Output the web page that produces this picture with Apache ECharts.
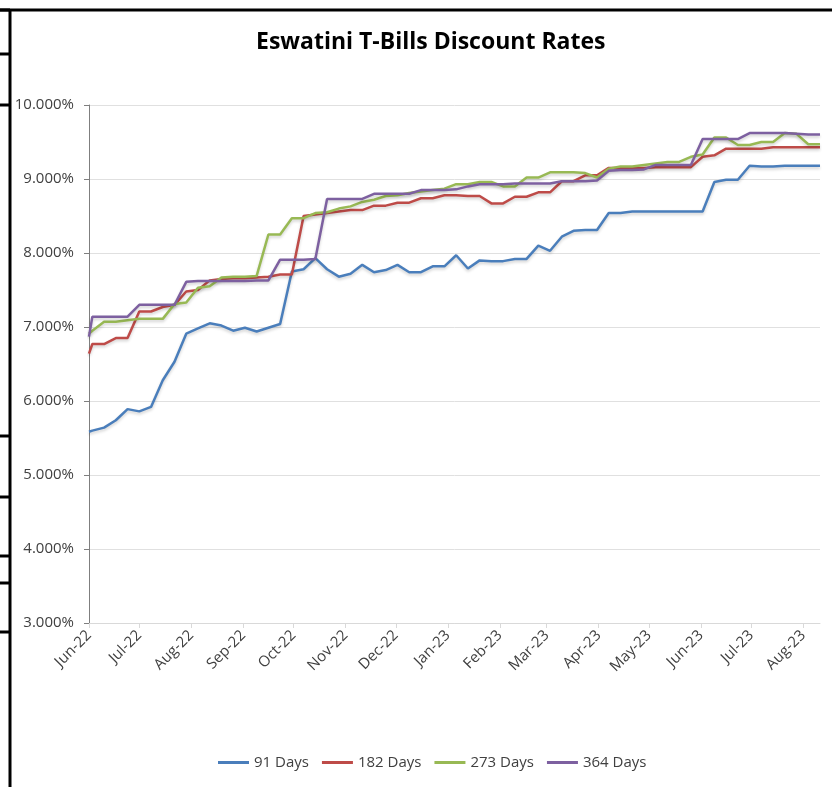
<!DOCTYPE html>
<html>
<head>
<meta charset="utf-8">
<script src="https://cdn.jsdelivr.net/npm/echarts@6/dist/echarts.min.js"></script>
<style>
html,body{margin:0;padding:0;background:#fff;}
#chart{width:832px;height:787px;}
</style>
</head>
<body>
<div id="chart"></div>
<script>
// Auction dates (x values)
var dates = ['2022-06-01','2022-06-03','2022-06-10','2022-06-17','2022-06-24','2022-07-01','2022-07-08','2022-07-15','2022-07-22','2022-07-29',
'2022-08-05','2022-08-12','2022-08-19','2022-08-26','2022-09-02','2022-09-09','2022-09-16','2022-09-23','2022-09-30','2022-10-07',
'2022-10-14','2022-10-21','2022-10-28','2022-11-04','2022-11-11','2022-11-18','2022-11-25','2022-12-02','2022-12-09','2022-12-16',
'2022-12-23','2022-12-30','2023-01-06','2023-01-13','2023-01-20','2023-01-27','2023-02-03','2023-02-10','2023-02-17','2023-02-24',
'2023-03-03','2023-03-10','2023-03-17','2023-03-24','2023-03-31','2023-04-07','2023-04-14','2023-04-21','2023-04-28','2023-05-05',
'2023-05-12','2023-05-19','2023-05-26','2023-06-02','2023-06-09','2023-06-16','2023-06-23','2023-06-30','2023-07-07','2023-07-14',
'2023-07-21','2023-07-28','2023-08-04','2023-08-11'];

var days91 = [5.585,5.60,5.64,5.74,5.89,5.86,5.92,6.28,6.53,6.91,
6.98,7.05,7.02,6.95,6.99,6.94,6.99,7.04,7.75,7.78,
7.93,7.78,7.68,7.72,7.84,7.74,7.77,7.84,7.74,7.74,
7.82,7.82,7.97,7.79,7.90,7.89,7.89,7.92,7.92,8.10,
8.03,8.22,8.30,8.31,8.31,8.54,8.54,8.56,8.56,8.56,
8.56,8.56,8.56,8.56,8.96,8.99,8.99,9.18,9.17,9.17,
9.18,9.18,9.18,9.18];

var days182 = [6.64,6.77,6.77,6.85,6.85,7.21,7.21,7.27,7.30,7.48,
7.50,7.63,7.65,7.66,7.66,7.67,7.68,7.71,7.71,8.50,
8.52,8.54,8.56,8.58,8.58,8.64,8.64,8.68,8.68,8.74,
8.74,8.78,8.78,8.77,8.77,8.67,8.67,8.76,8.76,8.82,
8.82,8.97,8.97,9.05,9.05,9.15,9.15,9.15,9.15,9.16,
9.16,9.16,9.16,9.30,9.32,9.41,9.41,9.41,9.41,9.43,
9.43,9.43,9.43,9.43];

var days273 = [6.91,6.95,7.07,7.07,7.09,7.11,7.11,7.11,7.31,7.33,
7.53,7.55,7.67,7.68,7.68,7.69,8.25,8.25,8.47,8.47,
8.54,8.55,8.60,8.63,8.69,8.72,8.77,8.78,8.81,8.83,
8.85,8.87,8.93,8.93,8.96,8.96,8.90,8.90,9.02,9.02,
9.09,9.09,9.09,9.08,9.02,9.14,9.17,9.17,9.19,9.21,
9.23,9.23,9.30,9.33,9.56,9.56,9.46,9.46,9.50,9.50,
9.62,9.61,9.47,9.47];

var days364 = [6.87,7.14,7.14,7.14,7.14,7.30,7.30,7.30,7.30,7.61,
7.62,7.62,7.62,7.62,7.62,7.63,7.63,7.91,7.91,7.91,
7.92,8.73,8.73,8.73,8.73,8.80,8.80,8.80,8.80,8.85,
8.85,8.85,8.86,8.90,8.93,8.93,8.93,8.94,8.94,8.94,
8.94,8.97,8.97,8.97,8.98,9.11,9.12,9.12,9.13,9.19,
9.19,9.19,9.19,9.54,9.54,9.54,9.54,9.62,9.62,9.62,
9.62,9.61,9.60,9.60];

var seriesNames = ['91 Days','182 Days','273 Days','364 Days'];
var tickDates = ['2022-06-01','2022-07-01','2022-08-01','2022-09-01','2022-10-01','2022-11-01','2022-12-01',
'2023-01-01','2023-02-01','2023-03-01','2023-04-01','2023-05-01','2023-06-01','2023-07-01','2023-08-01'];
var tickLabels = ['Jun-22','Jul-22','Aug-22','Sep-22','Oct-22','Nov-22','Dec-22',
'Jan-23','Feb-23','Mar-23','Apr-23','May-23','Jun-23','Jul-23','Aug-23'];
var yTicks = [3,4,5,6,7,8,9,10];

// days since first date (x scale)
var DAY = 86400000;
function ts(s){ var p = s.split('-'); return Date.UTC(+p[0], +p[1]-1, +p[2]); }
var t0 = ts(dates[0]);
function dayIdx(s){ return Math.round((ts(s) - t0) / DAY); }
var tickX = tickDates.map(dayIdx);
function pairs(vals){ return vals.map(function(v,i){ return [dayIdx(dates[i]), v]; }); }

var colors = ['#4A7EBB','#BE4B48','#98B954','#7D60A0'];
var allData = [days91, days182, days273, days364];

var chart = echarts.init(document.getElementById('chart'), null, {renderer:'canvas'});
var font = '"Open Sans", "Noto Sans", sans-serif';

var frameY = [10, 54, 105, 436, 497, 556, 583, 632];
var graphics = [
  {type:'line', shape:{x1:0,y1:10,x2:832,y2:10}, style:{stroke:'#000',lineWidth:3}, z:100},
  {type:'line', shape:{x1:10,y1:10,x2:10,y2:787}, style:{stroke:'#000',lineWidth:3}, z:100}
];
frameY.forEach(function(y){
  graphics.push({type:'line', shape:{x1:0,y1:y,x2:10,y2:y}, style:{stroke:'#000',lineWidth:3}, z:100});
});

chart.setOption({
  animation:false,
  backgroundColor:'#fff',
  color: colors,
  textStyle:{fontFamily:font},
  title:{
    text:'Eswatini T-Bills Discount Rates',
    left:251, top:26,
    textStyle:{fontSize:23, fontWeight:'bold', color:'#000', fontFamily:font}
  },
  graphic: graphics,
  grid:{left:89, right:12, top:105, bottom:164, containLabel:false},
  legend:{
    bottom:12, left:213,
    icon:'rect', itemWidth:31, itemHeight:3, itemGap:13,
    textStyle:{fontSize:15, color:'#404040', fontFamily:font},
    data: seriesNames
  },
  xAxis:{
    type:'value',
    min: 0, max: dayIdx(dates[dates.length-1]),
    axisLine:{show:true, onZero:false, lineStyle:{color:'#d9d9d9', width:1}},
    axisTick:{show:true, length:5, lineStyle:{color:'#d9d9d9'}, customValues: tickX},
    axisLabel:{
      customValues: tickX,
      rotate:45, margin:10, fontSize:15, color:'#404040', fontFamily:font,
      formatter:function(v){
        var i = tickX.indexOf(Math.round(v));
        return i >= 0 ? tickLabels[i] : '';
      }
    },
    splitLine:{show:false}
  },
  yAxis:{
    type:'value', min:yTicks[0], max:yTicks[yTicks.length-1], interval:1,
    axisLine:{show:true, lineStyle:{color:'#7f7f7f', width:1}},
    axisTick:{show:true, length:5, lineStyle:{color:'#7f7f7f'}},
    axisLabel:{fontSize:15, color:'#404040', margin:15, fontFamily:font,
      formatter:function(v){ return v.toFixed(3) + '%'; }},
    splitLine:{show:true, lineStyle:{color:'#e0e0e0', width:1}}
  },
  series: seriesNames.map(function(n, i){
    return {
      name:n, type:'line', data: pairs(allData[i]),
      showSymbol:false, symbol:'none',
      lineStyle:{width:2.5, color:colors[i], shadowColor:'rgba(0,0,0,0.18)', shadowBlur:3, shadowOffsetY:2},
      itemStyle:{color:colors[i]}
    };
  })
});
</script>
</body>
</html>
